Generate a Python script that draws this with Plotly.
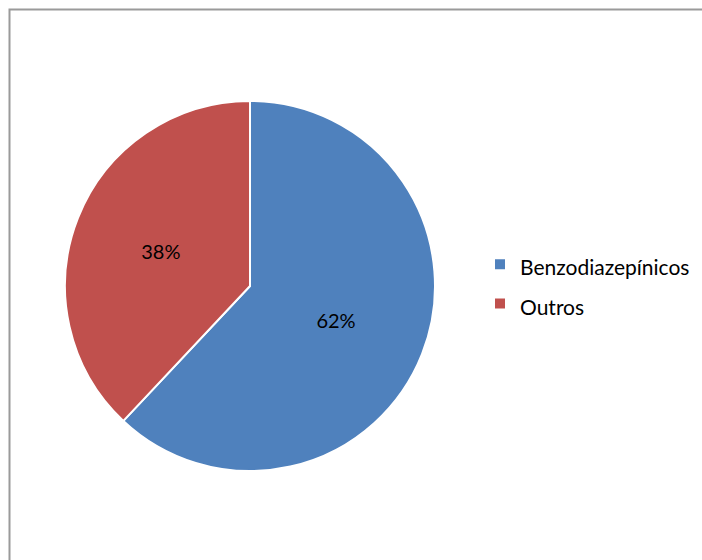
import plotly.graph_objects as go

categories = ["Benzodiazepínicos", "Outros"]
values = [62, 38]
colors = ["#4F81BD", "#C0504D"]

W, H = 702, 560
cx, cy, r = 250, 286, 185

legend_labels = ["<span style='font-size:21px'>%s</span>" % c for c in categories]

fig = go.Figure(go.Pie(
    labels=legend_labels,
    values=values,
    sort=False,
    direction="clockwise",
    rotation=0,
    marker=dict(colors=colors, line=dict(color="white", width=2)),
    textinfo="percent",
    texttemplate="%{percent:.0%}",
    textposition="inside",
    insidetextorientation="horizontal",
    textfont=dict(family="Lato", size=20, color="#000000"),
    domain=dict(x=[(cx - r) / W, (cx + r) / W], y=[(H - cy - r) / H, (H - cy + r) / H]),
    hoverinfo="percent",
))

fig.update_layout(
    width=W, height=H,
    margin=dict(l=0, r=0, t=0, b=0),
    paper_bgcolor="white",
    plot_bgcolor="white",
    showlegend=True,
    legend=dict(
        x=480 / W, y=1 - 284 / H, xanchor="left", yanchor="middle",
        font=dict(family="Lato", size=28, color="#000000"),
        bgcolor="rgba(0,0,0,0)",
    ),
    shapes=[dict(
        type="rect", xref="paper", yref="paper",
        x0=9.5 / W, x1=1.05, y0=-0.05, y1=1 - 9.5 / H,
        line=dict(color="#9a9a9a", width=2), fillcolor="rgba(0,0,0,0)",
    )],
)

fig.write_html(
    "out.html",
    config={"displayModeBar": False},
    post_script="document.body.style.margin='0px';document.body.style.overflow='hidden';",
)
